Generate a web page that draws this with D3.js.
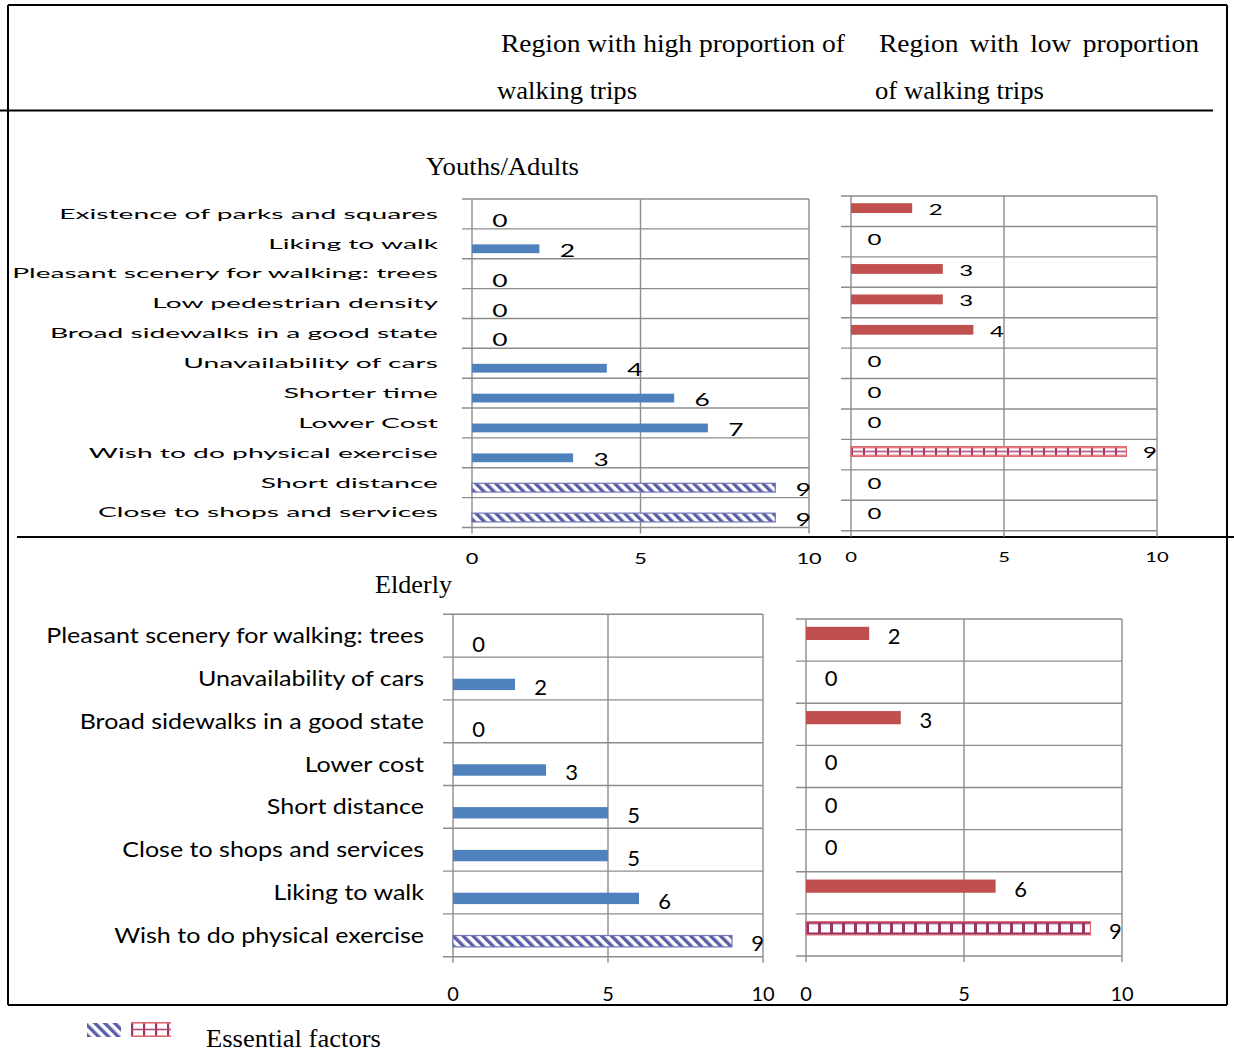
<!DOCTYPE html>
<html>
<head>
<meta charset="utf-8">
<script src="https://cdn.jsdelivr.net/npm/d3@7/dist/d3.min.js"></script>
<style>
  html, body { margin: 0; padding: 0; background: #fff; }
  svg { display: block; }
</style>
</head>
<body>
<svg id="chart" width="1234" height="1053"></svg>
<script>
// ---- Data -------------------------------------------------------------
const youthCategories = [
  "Existence of parks and squares",
  "Liking to walk",
  "Pleasant scenery for walking: trees",
  "Low pedestrian density",
  "Broad sidewalks in a good state",
  "Unavailability of cars",
  "Shorter time",
  "Lower Cost",
  "Wish to do physical exercise",
  "Short distance",
  "Close to shops and services"
];
const youthHigh = [0, 2, 0, 0, 0, 4, 6, 7, 3, 9, 9];
const youthLow  = [2, 0, 3, 3, 4, 0, 0, 0, 9, 0, 0];
const youthHighEssential = ["Short distance", "Close to shops and services"];
const youthLowEssential  = ["Wish to do physical exercise"];

const elderlyCategories = [
  "Pleasant scenery for walking: trees",
  "Unavailability of cars",
  "Broad sidewalks in a good state",
  "Lower cost",
  "Short distance",
  "Close to shops and services",
  "Liking to walk",
  "Wish to do physical exercise"
];
const elderlyHigh = [0, 2, 0, 3, 5, 5, 6, 9];
const elderlyLow  = [2, 0, 3, 0, 0, 0, 6, 9];
const elderlyHighEssential = ["Wish to do physical exercise"];
const elderlyLowEssential  = ["Wish to do physical exercise"];

const axisTicks = [0, 5, 10];
const headerHigh = ["Region with high proportion of", "walking trips"];
const headerLow  = ["Region  with  low  proportion", "of walking trips"];
const groupTitles = ["Youths/Adults", "Elderly"];
const legendLabel = "Essential factors";

// ---- Styling ----------------------------------------------------------
const BLUE = "#4F81BD", RED = "#C0504D";
const HATCH_BLUE = "#5b5ea5", HATCH_BLUE_EDGE = "#7376b5";
const GRID_MAGENTA = "#983466", GRID_PINK = "#e06a6e";
const GRID = "#8c8c8c";
const SANS = "Lato, 'Open Sans', sans-serif";
const SERIF = "'Liberation Serif', 'Times New Roman', serif";

const svg = d3.select("#chart");
const defs = svg.append("defs");

// diagonal "\\\" hatching used for essential factors on the high-walking side
function diagPattern(id) {
  const p = defs.append("pattern")
    .attr("id", id).attr("patternUnits", "userSpaceOnUse")
    .attr("width", 7).attr("height", 7)
    .attr("patternTransform", "rotate(-45)");
  p.append("rect").attr("width", 7).attr("height", 7).attr("fill", "#fff");
  p.append("rect").attr("width", 3.4).attr("height", 7).attr("fill", HATCH_BLUE);
}
// small grid hatching used for essential factors on the low-walking side
function gridPattern(id, x, y, h, midLine, vw) {
  const p = defs.append("pattern")
    .attr("id", id).attr("patternUnits", "userSpaceOnUse")
    .attr("x", x).attr("y", y).attr("width", 12).attr("height", h);
  p.append("rect").attr("width", 12).attr("height", h).attr("fill", "#fff");
  p.append("rect").attr("x", 0).attr("width", vw).attr("height", h).attr("fill", GRID_MAGENTA);
  const edge = midLine ? 1.6 : 2.4;
  p.append("rect").attr("y", 0).attr("width", 12).attr("height", edge).attr("fill", midLine ? GRID_PINK : GRID_MAGENTA);
  p.append("rect").attr("y", h - edge).attr("width", 12).attr("height", edge).attr("fill", midLine ? GRID_PINK : GRID_MAGENTA);
  if (midLine) {
    p.append("rect").attr("y", h / 2 - 0.8).attr("width", 12).attr("height", 1.6).attr("fill", "#b04a7a");
  }
}
diagPattern("diag");

// blur for the legend swatches
const blur = defs.append("filter").attr("id", "soft");
blur.append("feGaussianBlur").attr("stdDeviation", 0.7);

// ---- Frame lines --------------------------------------------------------
const frame = svg.append("g").attr("stroke", "#000").attr("stroke-width", 2);
frame.append("line").attr("x1", 8).attr("x2", 1227).attr("y1", 5).attr("y2", 5);
frame.append("line").attr("x1", 8).attr("x2", 8).attr("y1", 5).attr("y2", 1005);
frame.append("line").attr("x1", 1227).attr("x2", 1227).attr("y1", 5).attr("y2", 1005);
frame.append("line").attr("x1", 0).attr("x2", 1213).attr("y1", 110.5).attr("y2", 110.5);
frame.append("line").attr("x1", 17).attr("x2", 1234).attr("y1", 537).attr("y2", 537);
frame.append("line").attr("x1", 8).attr("x2", 1227).attr("y1", 1005).attr("y2", 1005);

// ---- Text helpers -------------------------------------------------------
function stretchedText(parent, str, x, y, opts) {
  const g = parent.append("g");
  const t = g.append("text").text(str)
    .attr("font-family", opts.family || SANS)
    .attr("font-size", opts.size)
    .attr("text-anchor", opts.anchor || "middle")
    .attr("fill", "#000");
  if (opts.weight) t.attr("font-weight", opts.weight);
  if (opts.wordSpacing) t.attr("word-spacing", opts.wordSpacing);
  g.attr("transform", `translate(${x},${y}) scale(${opts.sx || 1},1)`);
  return t;
}
function naturalWidth(str, family, size) {
  const t = svg.append("text").text(str).attr("font-family", family).attr("font-size", size);
  const w = t.node().getComputedTextLength();
  t.remove();
  return w;
}

// ---- Header -----------------------------------------------------------
const HEAD_SIZE = 26;
const headSx = 344 / naturalWidth(headerHigh[0], SERIF, HEAD_SIZE);
stretchedText(svg, headerHigh[0], 501, 52, {family: SERIF, size: HEAD_SIZE, anchor: "start", sx: headSx});
stretchedText(svg, headerHigh[1], 497, 99, {family: SERIF, size: HEAD_SIZE, anchor: "start", sx: headSx * 0.97});
{
  const nat = naturalWidth(headerLow[0], SERIF, HEAD_SIZE);
  const gaps = headerLow[0].split(/\s+/).length - 1;
  const ws = (320 / headSx - nat) / gaps;
  stretchedText(svg, headerLow[0].replace(/\s+/g, " "), 879, 52,
    {family: SERIF, size: HEAD_SIZE, anchor: "start", sx: headSx, wordSpacing: ws + naturalWidth("  ", SERIF, HEAD_SIZE) - naturalWidth(" ", SERIF, HEAD_SIZE)});
}
stretchedText(svg, headerLow[1], 875, 99, {family: SERIF, size: HEAD_SIZE, anchor: "start", sx: headSx * 0.97});

stretchedText(svg, groupTitles[0], 426, 175, {family: SERIF, size: 25, anchor: "start",
  sx: 153 / naturalWidth(groupTitles[0], SERIF, 25)});
stretchedText(svg, groupTitles[1], 375, 593, {family: SERIF, size: 25, anchor: "start",
  sx: 77 / naturalWidth(groupTitles[1], SERIF, 25)});

// ---- Panels -----------------------------------------------------------
const panels = [
  { id: "yh", cats: youthCategories, values: youthHigh, essential: youthHighEssential,
    color: BLUE, hatch: "diag",
    x0: 472, x1: 809, y0: 199, y1: 527.5,
    barTop: 15.5, barH: 8.8, labelDx: 28, labelBase: 28, valueSize: 16.5, valueSx: 1.6,
    tickSize: 15, tickSx: 1.45, tickBase: 564,
    cat: { right: 438, size: 13.5, width: 426, base: 4.8 } },
  { id: "yl", cats: youthCategories, values: youthLow, essential: youthLowEssential,
    color: RED, hatch: "grid", midLine: true, vw: 2,
    x0: 851, x1: 1157, y0: 196, y1: 530.7,
    barTop: 7.2, barH: 9.8, labelDx: 23.5, labelBase: 19, valueSize: 15, valueSx: 1.6,
    tickSize: 13.5, tickSx: 1.5, tickBase: 562 },
  { id: "eh", cats: elderlyCategories, values: elderlyHigh, essential: elderlyHighEssential,
    color: BLUE, hatch: "diag",
    x0: 453, x1: 763, y0: 614.3, y1: 956.7,
    barTop: 21.6, barH: 11.4, labelDx: 25.5, labelBase: 37.5, valueSize: 22, valueSx: 1,
    tickSize: 20, tickSx: 1, tickBase: 1001,
    cat: { right: 424, size: 21, width: 378, base: 7.5 } },
  { id: "el", cats: elderlyCategories, values: elderlyLow, essential: elderlyLowEssential,
    color: RED, hatch: "grid", midLine: false, vw: 3,
    x0: 806, x1: 1122, y0: 619, y1: 956,
    barTop: 7.8, barH: 13.2, labelDx: 25, labelBase: 25, valueSize: 22, valueSx: 1,
    tickSize: 20, tickSx: 1, tickBase: 1001 }
];

panels.forEach(p => {
  const x = d3.scaleLinear().domain([0, 10]).range([p.x0, p.x1]);
  const y = d3.scaleBand().domain(p.cats).range([p.y0, p.y1]).paddingInner(0).paddingOuter(0);
  const g = svg.append("g");

  // gridlines and axis ticks
  const grid = g.append("g").attr("stroke", GRID).attr("stroke-width", 1.4);
  const bounds = p.cats.map(c => y(c)).concat([p.y1]);
  grid.selectAll("line.h").data(bounds).join("line")
    .attr("x1", p.x0 - 10).attr("x2", x(10))
    .attr("y1", d => d).attr("y2", d => d);
  grid.selectAll("line.v").data(axisTicks).join("line")
    .attr("x1", d => x(d)).attr("x2", d => x(d))
    .attr("y1", p.y0).attr("y2", p.y1 + 6);

  // x tick labels
  axisTicks.forEach(t => {
    stretchedText(g, String(t), x(t), p.tickBase, {size: p.tickSize, sx: p.tickSx});
  });

  // bars
  const rows = p.cats.map((c, i) => ({cat: c, value: p.values[i], essential: p.essential.includes(c)}));
  rows.forEach((r, i) => {
    if (r.value <= 0) return;
    const by = y(r.cat) + p.barTop;
    const bw = x(r.value) - x(0);
    let fill = p.color, stroke = "none";
    if (r.essential) {
      if (p.hatch === "diag") {
        fill = "url(#diag)"; stroke = HATCH_BLUE_EDGE;
      } else {
        const pid = `grid-${p.id}-${i}`;
        gridPattern(pid, x(0), by, p.barH, p.midLine, p.vw);
        fill = `url(#${pid})`; stroke = GRID_PINK;
      }
    }
    g.append("rect")
      .attr("x", x(0)).attr("y", by)
      .attr("width", bw).attr("height", p.barH)
      .attr("fill", fill).attr("stroke", stroke).attr("stroke-width", r.essential ? 1.2 : 0);
  });

  // value labels
  rows.forEach(r => {
    stretchedText(g, String(r.value), x(r.value) + p.labelDx, y(r.cat) + p.labelBase,
      {size: p.valueSize, sx: p.valueSx});
  });

  // category labels
  if (p.cat) {
    const longest = p.cats.reduce((a, b) => naturalWidth(b, SANS, p.cat.size) > naturalWidth(a, SANS, p.cat.size) ? b : a);
    const sx = p.cat.width / naturalWidth(longest, SANS, p.cat.size);
    p.cats.forEach(c => {
      stretchedText(g, c, p.cat.right, y(c) + y.bandwidth() / 2 + p.cat.base,
        {size: p.cat.size, sx: sx, anchor: "end"});
    });
  }
});

// ---- Legend -----------------------------------------------------------
const leg = svg.append("g").attr("filter", "url(#soft)");
leg.append("rect").attr("x", 87).attr("y", 1023).attr("width", 34).attr("height", 14)
  .attr("fill", "url(#diag)");
gridPattern("grid-legend", 131, 1022, 15, true, 2.2);
leg.append("rect").attr("x", 131).attr("y", 1022).attr("width", 40).attr("height", 15)
  .attr("fill", "url(#grid-legend)");
stretchedText(svg, legendLabel, 206, 1047, {family: SERIF, size: 25, anchor: "start",
  sx: 175 / naturalWidth(legendLabel, SERIF, 25)});
</script>
</body>
</html>
